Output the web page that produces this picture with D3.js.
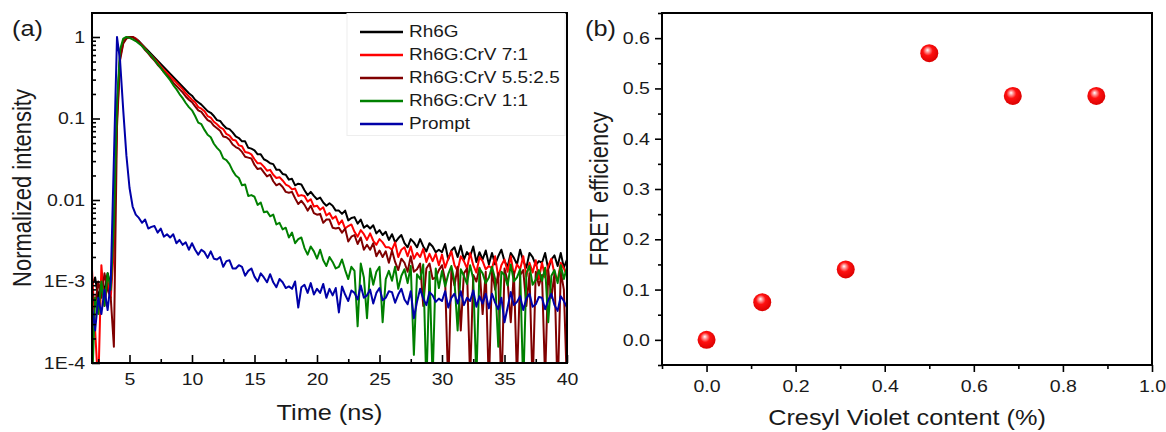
<!DOCTYPE html>
<html>
<head>
<meta charset="utf-8">
<script src="https://cdn.jsdelivr.net/npm/d3@7"></script>
<style>
  body { margin: 0; background: #fff; }
  text { font-family: "Liberation Sans", Arial, sans-serif; fill: #1a1a1a; }
</style>
</head>
<body>
<svg id="chart" width="1166" height="432"></svg>
<script>
// (a) decay curves, log10 of normalized intensity, one channel every 0.25 ns from 2 ns
var t0 = 2, dt = 0.25;

var rh6gLog = [
  -3.05, -2.95, -3.2, -3.0, -3.1, -2.9, -3.05, -2.4, -0.9, -0.2, -0.05, -0.01, 0, 0, -0.02, -0.05,
  -0.09, -0.13, -0.17, -0.21, -0.25, -0.29, -0.33, -0.37, -0.41, -0.45, -0.49, -0.53, -0.57, -0.61, -0.65, -0.69,
  -0.72, -0.77, -0.80, -0.83, -0.87, -0.91, -0.93, -0.97, -1.02, -1.03, -1.08, -1.12, -1.13, -1.17, -1.22, -1.24,
  -1.28, -1.28, -1.36, -1.37, -1.39, -1.44, -1.44, -1.50, -1.52, -1.55, -1.56, -1.63, -1.63, -1.68, -1.69, -1.75,
  -1.74, -1.82, -1.80, -1.81, -1.88, -1.94, -1.90, -1.95, -1.99, -1.97, -2.03, -2.07, -2.04, -2.07, -2.13, -2.13,
  -2.17, -2.13, -2.25, -2.22, -2.21, -2.29, -2.24, -2.34, -2.31, -2.35, -2.31, -2.41, -2.37, -2.43, -2.39, -2.49,
  -2.42, -2.52, -2.47, -2.43, -2.53, -2.58, -2.48, -2.52, -2.58, -2.48, -2.57, -2.63, -2.53, -2.57, -2.64, -2.61,
  -2.64, -2.54, -2.73, -2.62, -2.58, -2.70, -2.56, -2.73, -2.64, -2.69, -2.57, -2.76, -2.64, -2.73, -2.62, -2.79,
  -2.65, -2.79, -2.69, -2.61, -2.75, -2.82, -2.65, -2.71, -2.79, -2.61, -2.75, -2.83, -2.65, -2.70, -2.80, -2.75,
  -2.77, -2.65, -2.85, -2.73, -2.68, -2.81, -2.65, -2.83, -2.73
];

var crv71Log = [
  -2.85, -3.6, -4.3, -2.8, -3.3, -3.0, -3.2, -2.6, -1.0, -0.25, -0.07, -0.01, 0, 0, -0.02, -0.06,
  -0.10, -0.14, -0.19, -0.23, -0.27, -0.31, -0.36, -0.40, -0.44, -0.48, -0.52, -0.56, -0.60, -0.64, -0.69, -0.73,
  -0.77, -0.80, -0.86, -0.88, -0.91, -0.97, -0.99, -1.04, -1.07, -1.11, -1.13, -1.19, -1.21, -1.26, -1.27, -1.33,
  -1.34, -1.41, -1.42, -1.44, -1.50, -1.55, -1.55, -1.59, -1.64, -1.63, -1.69, -1.73, -1.72, -1.76, -1.81, -1.83,
  -1.87, -1.86, -1.95, -1.94, -1.95, -2.02, -1.99, -2.08, -2.07, -2.12, -2.09, -2.19, -2.16, -2.23, -2.20, -2.30,
  -2.25, -2.35, -2.32, -2.30, -2.39, -2.45, -2.37, -2.42, -2.49, -2.41, -2.50, -2.55, -2.48, -2.52, -2.58, -2.58,
  -2.61, -2.52, -2.70, -2.61, -2.58, -2.69, -2.57, -2.72, -2.65, -2.70, -2.60, -2.76, -2.66, -2.75, -2.66, -2.80,
  -2.67, -2.83, -2.72, -2.63, -2.80, -2.87, -2.69, -2.75, -2.84, -2.65, -2.80, -2.89, -2.70, -2.75, -2.85, -2.81,
  -2.84, -2.69, -2.95, -2.80, -2.73, -2.88, -2.69, -2.92, -2.79, -2.85, -2.69, -2.94, -2.77, -2.89, -2.74, -2.97,
  -2.77, -2.95, -2.81, -2.72, -2.91, -2.99, -2.77, -2.84, -2.93
];

var crv55Log = [
  -3.1, -3.3, -3.0, -3.2, -2.9, -3.1, -3.2, -3.8, -1.1, -0.28, -0.08, -0.02, 0, 0, -0.03, -0.06,
  -0.11, -0.16, -0.20, -0.25, -0.29, -0.34, -0.38, -0.43, -0.47, -0.51, -0.56, -0.60, -0.64, -0.68, -0.73, -0.77,
  -0.80, -0.85, -0.90, -0.92, -0.97, -1.02, -1.04, -1.09, -1.12, -1.15, -1.22, -1.23, -1.26, -1.32, -1.35, -1.37,
  -1.41, -1.47, -1.48, -1.49, -1.57, -1.62, -1.61, -1.66, -1.71, -1.69, -1.77, -1.82, -1.80, -1.84, -1.90, -1.91,
  -1.90, -1.98, -2.05, -2.01, -2.06, -2.13, -2.07, -2.16, -2.18, -2.17, -2.28, -2.24, -2.24, -2.34, -2.35, -2.34,
  -2.40, -2.35, -2.51, -2.45, -2.43, -2.54, -2.46, -2.61, -2.55, -2.61, -2.53, -2.69, -2.62, -2.70, -2.63, -2.77,
  -2.62, -2.76, -2.86, -2.72, -2.77, -2.88, -2.69, -2.88, -2.85, -2.78, -3.3, -2.84, -2.78, -2.97, -2.95, -2.86,
  -2.80, -2.98, -4.3, -2.86, -3.05, -2.82, -3.6, -2.90, -2.84, -4.2, -2.92, -3.0, -2.83, -3.4, -2.88, -4.3,
  -2.86, -3.1, -2.90, -4.4, -2.84, -3.0, -3.5, -2.88, -4.2, -2.92, -2.86, -3.3, -2.90, -4.3, -2.88, -3.05,
  -2.92, -4.2, -2.86, -3.2, -2.90, -4.4, -2.88, -3.1, -4.3
];

var crv11Log = [
  -4.3, -3.2, -3.4, -3.0, -3.3, -2.9, -3.1, -2.3, -0.8, -0.15, -0.02, 0, -0.01, -0.03, -0.05, -0.08,
  -0.11, -0.15, -0.19, -0.23, -0.28, -0.33, -0.38, -0.43, -0.48, -0.53, -0.59, -0.64, -0.70, -0.75, -0.81, -0.86,
  -0.90, -0.97, -1.05, -1.07, -1.14, -1.20, -1.23, -1.31, -1.36, -1.40, -1.49, -1.51, -1.56, -1.64, -1.70, -1.73,
  -1.82, -1.81, -1.95, -1.94, -1.96, -2.06, -2.03, -2.15, -2.14, -2.20, -2.18, -2.30, -2.28, -2.36, -2.34, -2.46,
  -2.40, -2.53, -2.48, -2.46, -2.59, -2.67, -2.57, -2.63, -2.72, -2.61, -2.74, -2.81, -2.70, -2.76, -2.84, -2.82,
  -2.73, -2.86, -2.97, -2.82, -2.87, -3.55, -2.78, -2.95, -3.45, -2.84, -3.04, -2.88, -2.82, -3.5, -2.97, -2.87,
  -2.99, -2.82, -3.09, -2.93, -2.85, -3.02, -2.81, -3.9, -2.91, -2.97, -2.79, -4.3, -2.88, -4.2, -2.84, -3.08,
  -2.87, -3.06, -2.91, -2.81, -3.0, -3.6, -2.85, -2.93, -3.03, -2.80, -2.97, -4.2, -2.84, -2.90, -3.02, -2.95,
  -2.82, -2.97, -3.8, -2.88, -2.92, -3.05, -2.79, -3.0, -2.95, -2.85, -4.3, -2.90, -2.81, -3.04, -2.98, -2.86,
  -2.99, -2.83, -3.5, -2.93, -2.86, -3.02, -2.80, -2.97, -2.82
];

var promptLog = [
  -3.3, -3.6, -3.2, -3.4, -3.1, -3.35, -3.0, -1.5, 0, -0.3, -0.9, -1.45, -1.85, -2.08, -2.18, -2.22,
  -2.28, -2.24, -2.35, -2.33, -2.32, -2.40, -2.35, -2.45, -2.42, -2.46, -2.42, -2.53, -2.49, -2.55, -2.52, -2.61,
  -2.53, -2.61, -2.67, -2.61, -2.64, -2.71, -2.63, -2.72, -2.73, -2.70, -2.82, -2.75, -2.74, -2.84, -2.84, -2.80,
  -2.82, -2.93, -2.87, -2.84, -2.94, -3.00, -2.90, -2.95, -3.01, -2.91, -3.01, -3.07, -2.97, -3.01, -3.08, -3.06,
  -3.09, -3.00, -3.32, -3.07, -3.04, -3.14, -3.02, -3.16, -3.09, -3.14, -3.03, -3.20, -3.09, -3.17, -3.08, -3.38,
  -3.06, -3.16, -3.24, -3.11, -3.14, -3.22, -3.05, -3.20, -3.17, -3.10, -3.27, -3.14, -3.08, -3.23, -3.20, -3.12,
  -3.13, -3.26, -3.16, -3.09, -3.22, -3.28, -3.12, -3.45, -3.25, -3.09, -3.21, -3.29, -3.13, -3.17, -3.25, -3.21,
  -3.24, -3.12, -3.32, -3.20, -3.15, -3.27, -3.12, -3.29, -3.20, -3.24, -3.11, -3.31, -3.18, -3.27, -3.15, -3.33,
  -3.15, -3.26, -3.34, -3.20, -3.50, -3.32, -3.13, -3.29, -3.25, -3.18, -3.35, -3.21, -3.15, -3.31, -3.28, -3.19,
  -3.20, -3.34, -3.23, -3.15, -3.29, -3.36, -3.18, -3.24, -3.32
];

var seriesNames = ["Rh6G", "Rh6G:CrV 7:1", "Rh6G:CrV 5.5:2.5", "Rh6G:CrV 1:1", "Prompt"];
var seriesColors = ["#000000", "#ff0000", "#800000", "#008000", "#0000a8"];
var seriesLogs = [rh6gLog, crv71Log, crv55Log, crv11Log, promptLog];

var timeTicks = [5, 10, 15, 20, 25, 30, 35, 40];
var intensityTicks = [1e-4, 1e-3, 0.01, 0.1, 1];
var intensityLabels = ["1E-4", "1E-3", "0.01", "0.1", "1"];

// (b) FRET efficiency vs Cresyl Violet content
var cvContent = [0, 0.125, 0.3125, 0.5, 0.6875, 0.875];
var fretEff = [0, 0.075, 0.14, 0.57, 0.485, 0.485];

var svg = d3.select("#chart");
var stretch = 1.15;

function label(x, y, str, size, anchor, rotate) {
  return svg.append("text")
    .attr("transform", "translate(" + x + "," + y + ") scale(" + stretch + ",1)" + (rotate ? " rotate(" + rotate + ")" : ""))
    .attr("text-anchor", anchor || "middle")
    .style("font-size", size + "px")
    .text(str);
}

function styleAxis(g, fontSize) {
  g.select(".domain").remove();
  g.selectAll(".tick line").attr("stroke", "#000").attr("stroke-width", 1.6);
  g.selectAll(".tick text")
    .attr("fill", "#1a1a1a")
    .style("font-family", '"Liberation Sans", Arial, sans-serif')
    .style("font-size", fontSize + "px");
}

// ---------- panel (a)
var pa = { left: 92, top: 13, right: 567, bottom: 363 };
var xa = d3.scaleLinear().domain([2, 40]).range([pa.left, pa.right]);
var ya = d3.scaleLog().domain([1e-4, 1.97]).range([pa.bottom, pa.top]);

svg.append("clipPath").attr("id", "clipA")
  .append("rect")
    .attr("x", pa.left).attr("y", pa.top)
    .attr("width", pa.right - pa.left).attr("height", pa.bottom - pa.top);

var line = d3.line()
  .x(function(d, i) { return xa(t0 + i * dt); })
  .y(function(d) { return ya(Math.pow(10, d)); });

svg.append("g").attr("clip-path", "url(#clipA)")
  .selectAll("path")
  .data(seriesLogs)
  .enter().append("path")
    .attr("d", line)
    .attr("fill", "none")
    .attr("stroke", function(d, i) { return seriesColors[i]; })
    .attr("stroke-width", 2)
    .attr("stroke-linejoin", "round");

var minorTime = timeTicks.map(function(t) { return t - 2.5; });
var minorInt = [];
intensityTicks.slice(0, 4).forEach(function(d) {
  for (var k = 2; k < 10; k++) minorInt.push(d * k);
});

var gxa = svg.append("g").attr("transform", "translate(0," + pa.bottom + ")")
  .call(d3.axisBottom(xa).tickValues(timeTicks).tickSize(-8).tickPadding(10).tickFormat(d3.format("d")));
styleAxis(gxa, 17);
gxa.selectAll(".tick text").attr("transform", "scale(" + stretch + ",1)");
var gxam = svg.append("g").attr("transform", "translate(0," + pa.bottom + ")")
  .call(d3.axisBottom(xa).tickValues(minorTime).tickSize(-4).tickFormat(""));
styleAxis(gxam, 17);

var gya = svg.append("g").attr("transform", "translate(" + pa.left + ",0)")
  .call(d3.axisLeft(ya).tickValues(intensityTicks).tickSize(-8).tickPadding(6)
    .tickFormat(function(d, i) { return intensityLabels[i]; }));
styleAxis(gya, 17);
gya.selectAll(".tick text").attr("transform", "scale(" + stretch + ",1)");
var gyam = svg.append("g").attr("transform", "translate(" + pa.left + ",0)")
  .call(d3.axisLeft(ya).tickValues(minorInt).tickSize(-4).tickFormat(""));
styleAxis(gyam, 17);

svg.append("rect")
  .attr("x", pa.left).attr("y", pa.top)
  .attr("width", pa.right - pa.left).attr("height", pa.bottom - pa.top)
  .attr("fill", "none").attr("stroke", "#000").attr("stroke-width", 2);

// legend
var leg = svg.append("g");
leg.append("rect")
  .attr("x", 347).attr("y", 13.5).attr("width", 218).attr("height", 122)
  .attr("fill", "#fff").attr("stroke", "#eeeeee").attr("stroke-width", 1);
seriesNames.forEach(function(name, i) {
  var by = 37 + i * 23;
  leg.append("line")
    .attr("x1", 360).attr("x2", 403).attr("y1", by - 5).attr("y2", by - 5)
    .attr("stroke", seriesColors[i]).attr("stroke-width", 2.5);
  leg.append("text")
    .attr("transform", "translate(409," + by + ") scale(" + stretch + ",1)")
    .style("font-size", "16.5px")
    .text(name);
});

label(pa.left - 61, (pa.top + pa.bottom) / 2, "Normalized intensity", 22, "middle", -90);
label((pa.left + pa.right) / 2, 420, "Time (ns)", 22);
label(12, 36, "(a)", 22, "start");

// ---------- panel (b)
var pb = { left: 662, top: 13, right: 1152, bottom: 365 };
var xb = d3.scaleLinear().domain([-0.1, 1.0]).range([pb.left, pb.right]);
var yb = d3.scaleLinear().domain([-0.05, 0.65]).range([pb.bottom, pb.top]);

var defs = svg.append("defs");
var grad = defs.append("radialGradient").attr("id", "ball")
  .attr("cx", "45%").attr("cy", "42%").attr("r", "60%")
  .attr("fx", "40%").attr("fy", "32%");
grad.append("stop").attr("offset", "0%").attr("stop-color", "#ffffff");
grad.append("stop").attr("offset", "18%").attr("stop-color", "#ff9a9a");
grad.append("stop").attr("offset", "45%").attr("stop-color", "#ff1010");
grad.append("stop").attr("offset", "100%").attr("stop-color", "#d80000");

var gxb = svg.append("g").attr("transform", "translate(0," + pb.bottom + ")")
  .call(d3.axisBottom(xb).tickValues([0, 0.2, 0.4, 0.6, 0.8, 1.0]).tickSize(7).tickPadding(8)
    .tickFormat(d3.format(".1f")));
styleAxis(gxb, 17);
gxb.selectAll(".tick text").attr("transform", "scale(" + stretch + ",1)");
var gxbm = svg.append("g").attr("transform", "translate(0," + pb.bottom + ")")
  .call(d3.axisBottom(xb).tickValues([-0.1, 0.1, 0.3, 0.5, 0.7, 0.9]).tickSize(4).tickFormat(""));
styleAxis(gxbm, 17);

var gyb = svg.append("g").attr("transform", "translate(" + pb.left + ",0)")
  .call(d3.axisLeft(yb).tickValues([0, 0.1, 0.2, 0.3, 0.4, 0.5, 0.6]).tickSize(7).tickPadding(3.5)
    .tickFormat(d3.format(".1f")));
styleAxis(gyb, 17);
gyb.selectAll(".tick text").attr("transform", "scale(" + stretch + ",1)");
var gybm = svg.append("g").attr("transform", "translate(" + pb.left + ",0)")
  .call(d3.axisLeft(yb).tickValues([-0.05, 0.05, 0.15, 0.25, 0.35, 0.45, 0.55, 0.65]).tickSize(4).tickFormat(""));
styleAxis(gybm, 17);

svg.append("rect")
  .attr("x", pb.left).attr("y", pb.top)
  .attr("width", pb.right - pb.left).attr("height", pb.bottom - pb.top)
  .attr("fill", "none").attr("stroke", "#000").attr("stroke-width", 2);

svg.append("g").selectAll("circle")
  .data(cvContent)
  .enter().append("circle")
    .attr("cx", function(d) { return xb(d); })
    .attr("cy", function(d, i) { return yb(fretEff[i]); })
    .attr("r", 9)
    .attr("fill", "url(#ball)");

label(pb.left - 54, (pb.top + pb.bottom) / 2, "FRET efficiency", 22, "middle", -90);
label((pb.left + pb.right) / 2, 425, "Cresyl Violet content (%)", 22);
label(585, 36, "(b)", 22, "start");
</script>
</body>
</html>
